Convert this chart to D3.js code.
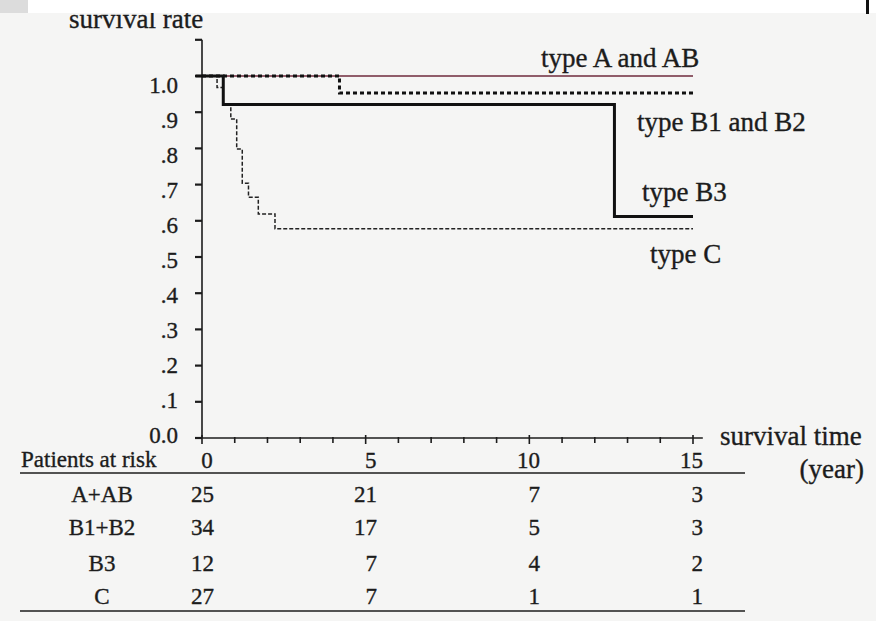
<!DOCTYPE html>
<html><head><meta charset="utf-8">
<script src="https://cdn.jsdelivr.net/npm/d3@7"></script>
<style>html,body{margin:0;padding:0;background:#f5f5f4;}svg{display:block;}</style>
</head><body>
<svg id="c" width="876" height="621"></svg>
<script>
// ---- data ----
const abTimes = [0, 15];
const abSurv = [1.0, 1.0];
const b12Times = [0, 4.2, 15];
const b12Surv = [1.0, 0.953, 0.953];
const b3Times = [0, 0.65, 12.6, 15];
const b3Surv = [1.0, 0.921, 0.612, 0.612];
const cTimes = [0, 0.46, 0.64, 0.88, 1.06, 1.23, 1.42, 1.72, 2.23, 15];
const cSurv = [1.0, 0.968, 0.921, 0.881, 0.798, 0.704, 0.665, 0.619, 0.578, 0.578];
const yTicks = [0, 0.1, 0.2, 0.3, 0.4, 0.5, 0.6, 0.7, 0.8, 0.9, 1.0, 1.1];
const yTickLabels = ["0.0", ".1", ".2", ".3", ".4", ".5", ".6", ".7", ".8", ".9", "1.0", ""];
const xTicks = [0,1,2,3,4,5,6,7,8,9,10,11,12,13,14,15];
const xLabelTicks = [0, 5, 10, 15];
const riskGroups = ["A+AB", "B1+B2", "B3", "C"];
const riskAB = [25, 21, 7, 3];
const riskB12 = [34, 17, 5, 3];
const riskB3 = [12, 7, 4, 2];
const riskC = [27, 7, 1, 1];
const seriesLabels = ["type A and AB", "type B1 and B2", "type B3", "type C"];

const svg = d3.select("#c");
const font = "'Liberation Serif', 'Times New Roman', serif";
const ink = "#1c1c1c";
const x = d3.scaleLinear().domain([0, 15]).range([202, 693]);
const y = d3.scaleLinear().domain([0, 1]).range([438, 76]);
// the printed tick labels sit slightly off their ticks in the scan
const yLab = d3.scaleLinear().domain([0, 1]).range([443, 93]);
const colRight = d3.scaleLinear().domain([0, 15]).range([214, 703]);

svg.append("rect").attr("width", 876).attr("height", 621).attr("fill", "#f5f5f4");

const txt = (t, xx, yy, size, anchor) => svg.append("text").attr("x", xx).attr("y", yy)
  .attr("text-anchor", anchor || "start").attr("font-family", font).attr("font-size", size)
  .attr("fill", ink).attr("stroke", ink).attr("stroke-width", 0.35).text(t);

// axes
svg.append("line").attr("x1", x(0)).attr("x2", x(0)).attr("y1", y(0)).attr("y2", y(1.1))
  .attr("stroke", ink).attr("stroke-width", 1.6);
svg.append("line").attr("x1", x(0) - 1).attr("x2", x(15.3)).attr("y1", y(0)).attr("y2", y(0))
  .attr("stroke", ink).attr("stroke-width", 1.6);
yTicks.forEach((v, i) => {
  svg.append("line").attr("x1", x(0) - 7).attr("x2", x(0)).attr("y1", y(v)).attr("y2", y(v))
    .attr("stroke", ink).attr("stroke-width", 2.2);
  if (yTickLabels[i]) txt(yTickLabels[i], 178, yLab(v), 23, "end");
});
xTicks.forEach(v => {
  const major = xLabelTicks.includes(v);
  svg.append("line").attr("x1", x(v)).attr("x2", x(v))
    .attr("y1", y(0) - (major ? 3 : 1)).attr("y2", y(0) + (major ? 6 : 5))
    .attr("stroke", ink).attr("stroke-width", 1.6);
});
xLabelTicks.forEach((v, i) => {
  txt(v, i < 2 ? x(v) + 5 : colRight(v), 468, 23, i < 2 ? "middle" : "end");
});

// curves
const line = d3.line().x(d => x(d[0])).y(d => y(d[1])).curve(d3.curveStepAfter);
const zip = (t, s) => t.map((v, i) => [v, s[i]]);
svg.append("path").attr("d", line(zip(abTimes, abSurv))).attr("fill", "none")
  .attr("stroke", "#6e2a3c").attr("stroke-width", 1.3);
svg.append("path").attr("d", line(zip(cTimes, cSurv))).attr("fill", "none")
  .attr("stroke", "#222").attr("stroke-width", 1.5).attr("stroke-dasharray", "4,2");
svg.append("path").attr("d", line(zip(b12Times, b12Surv))).attr("fill", "none")
  .attr("stroke", "#111").attr("stroke-width", 3).attr("stroke-dasharray", "4,3");
svg.append("path").attr("d", line([[-0.2, 1.0]].concat(zip(b3Times, b3Surv)))).attr("fill", "none")
  .attr("stroke", "#111").attr("stroke-width", 3);

// labels
txt("survival rate", 69, 28, 27);
txt(seriesLabels[0], 541, 67, 27);
txt(seriesLabels[1], 637, 131, 27);
txt(seriesLabels[2], 642, 201, 27);
txt(seriesLabels[3], 650, 263, 27);
txt("survival time", 720, 445, 27);
txt("(year)", 864, 478, 27, "end");

// risk table
txt("Patients at risk", 21, 467, 23);
svg.append("line").attr("x1", 20).attr("x2", 745).attr("y1", 473).attr("y2", 473)
  .attr("stroke", ink).attr("stroke-width", 1.5);
svg.append("line").attr("x1", 20).attr("x2", 745).attr("y1", 611).attr("y2", 611)
  .attr("stroke", ink).attr("stroke-width", 1.5);
const rows = [riskAB, riskB12, riskB3, riskC];
const rowY = [502, 535, 571, 604];
riskGroups.forEach((g, i) => {
  txt(g, 102, rowY[i], 23, "middle");
  rows[i].forEach((v, j) => {
    txt(v, colRight(xLabelTicks[j]), rowY[i], 23, "end");
  });
});

// scan artifacts at the top edge
svg.append("rect").attr("x", 0).attr("y", 0).attr("width", 876).attr("height", 13).attr("fill", "#ffffff");
svg.append("rect").attr("x", 0).attr("y", 0).attr("width", 28).attr("height", 13).attr("fill", "#dcdcdc");
svg.append("rect").attr("x", 866).attr("y", 0).attr("width", 3).attr("height", 14).attr("fill", "#111");
</script>
</body></html>
